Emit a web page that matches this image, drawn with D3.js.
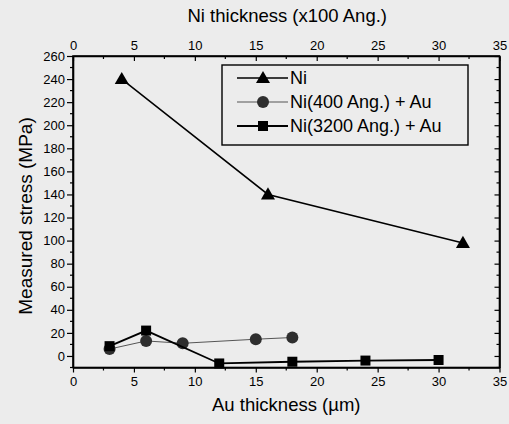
<!DOCTYPE html>
<html>
<head>
<meta charset="utf-8">
<script src="https://cdn.jsdelivr.net/npm/d3@7"></script>
<style>
  html, body { margin: 0; padding: 0; background: #ececec; }
  svg { display: block; }
  text { font-family: Arial, "Liberation Sans", sans-serif; fill: #000; }
</style>
</head>
<body>
<svg id="chart" width="509" height="424"></svg>
<script>
// Stress measurements versus film thickness
const niThickness   = [4, 16, 32];
const niStress      = [240, 140, 98];

const au400Thickness = [3, 6, 9, 15, 18];
const au400Stress    = [6, 13, 11, 14.5, 16];

const au3200Thickness = [3, 6, 12, 18, 24, 30];
const au3200Stress    = [8.5, 22, -6.5, -5, -4, -3.5];

const seriesNames = ["Ni", "Ni(400 Ang.) + Au", "Ni(3200 Ang.) + Au"];

const xTicks = [0, 5, 10, 15, 20, 25, 30, 35];
const yTicks = [0, 20, 40, 60, 80, 100, 120, 140, 160, 180, 200, 220, 240, 260];

const W = 509, H = 424;
const plot = { left: 73, right: 499.5, top: 56, bottom: 367.5 };

const svg = d3.select("#chart");

const x = d3.scaleLinear().domain([0, 35]).range([plot.left, plot.right]);
const y = d3.scaleLinear().domain([-10, 260]).range([plot.bottom, plot.top]);

const fmt = d3.format("d");

// Bottom axis (Au thickness)
const xMinor = d3.range(0, 35.01, 2.5).filter(v => v % 5 !== 0);
const gBottom = svg.append("g").attr("transform", `translate(0,${plot.bottom})`);
gBottom.call(d3.axisBottom(x).tickValues(xTicks).tickFormat(fmt).tickSizeInner(5).tickSizeOuter(0).tickPadding(4));
gBottom.selectAll(".minor").data(xMinor).join("line")
  .attr("x1", d => x(d)).attr("x2", d => x(d)).attr("y1", 0).attr("y2", 3).attr("stroke", "#000").attr("stroke-width", 1.2);

// Top axis (Ni thickness), ticks point inward
const gTop = svg.append("g").attr("transform", `translate(0,${plot.top})`);
gTop.call(d3.axisTop(x).tickValues(xTicks).tickFormat(fmt).tickSizeInner(-5).tickSizeOuter(0).tickPadding(6));
gTop.selectAll(".minor").data(xMinor).join("line")
  .attr("x1", d => x(d)).attr("x2", d => x(d)).attr("y1", 0).attr("y2", 3).attr("stroke", "#000").attr("stroke-width", 1.2);

// Left axis (stress)
const yMinor = d3.range(-10, 261, 10).filter(v => v % 20 !== 0);
const gLeft = svg.append("g").attr("transform", `translate(${plot.left},0)`);
gLeft.call(d3.axisLeft(y).tickValues(yTicks).tickFormat(fmt).tickSizeInner(6).tickSizeOuter(0).tickPadding(2));
gLeft.selectAll(".minor").data(yMinor).join("line")
  .attr("x1", 0).attr("x2", -3).attr("y1", d => y(d)).attr("y2", d => y(d)).attr("stroke", "#000").attr("stroke-width", 1.2);

// Right axis, inward ticks without labels
const gRight = svg.append("g").attr("transform", `translate(${plot.right},0)`);
gRight.call(d3.axisRight(y).tickValues(yTicks).tickFormat("").tickSizeInner(-5).tickSizeOuter(0));
gRight.selectAll(".minor").data(yMinor).join("line")
  .attr("x1", 0).attr("x2", -3).attr("y1", d => y(d)).attr("y2", d => y(d)).attr("stroke", "#000").attr("stroke-width", 1.2);

svg.selectAll(".domain").attr("stroke", "#000").attr("stroke-width", 1.6);
svg.selectAll(".tick line").attr("stroke", "#000").attr("stroke-width", 1.2);
svg.selectAll(".tick text").style("font-size", "13px").attr("fill", "#000");

// Close the frame at the bottom-left / top-right corners
svg.append("rect")
  .attr("x", plot.left).attr("y", plot.top)
  .attr("width", plot.right - plot.left).attr("height", plot.bottom - plot.top)
  .attr("fill", "none").attr("stroke", "#000").attr("stroke-width", 1.6);

// Axis titles
svg.append("text").attr("x", x(17.5) + 1).attr("y", 22).attr("text-anchor", "middle")
  .style("font-size", "18.5px").text("Ni thickness (x100 Ang.)");
svg.append("text").attr("x", x(17.5) + 0).attr("y", 411).attr("text-anchor", "middle")
  .style("font-size", "18.5px").text("Au thickness (\u00b5m)");
svg.append("text").attr("transform", `translate(32,${216}) rotate(-90)`).attr("text-anchor", "middle")
  .style("font-size", "19px").text("Measured stress  (MPa)");

// Marker shapes
const triangle = d3.symbol().type(d3.symbolTriangle).size(85);
function drawTriangle(g, cx, cy) {
  g.append("path").attr("d", triangle()).attr("transform", `translate(${cx},${cy + 1})`).attr("fill", "#000");
}
function drawCircle(g, cx, cy) {
  g.append("circle").attr("cx", cx).attr("cy", cy).attr("r", 6).attr("fill", "#2e2e2e");
}
function drawSquare(g, cx, cy) {
  g.append("rect").attr("x", cx - 5).attr("y", cy - 5).attr("width", 10).attr("height", 10).attr("fill", "#000");
}

const line = d3.line().x(d => x(d[0])).y(d => y(d[1]));

// Ni(400 Ang.) + Au
const s400 = au400Thickness.map((t, i) => [t, au400Stress[i]]);
svg.append("path").datum(s400).attr("d", line).attr("fill", "none").attr("stroke", "#555").attr("stroke-width", 1);
const g400 = svg.append("g");
s400.forEach(d => drawCircle(g400, x(d[0]), y(d[1])));

// Ni(3200 Ang.) + Au
const s3200 = au3200Thickness.map((t, i) => [t, au3200Stress[i]]);
svg.append("path").datum(s3200).attr("d", line).attr("fill", "none").attr("stroke", "#000").attr("stroke-width", 1.8);
const g3200 = svg.append("g");
s3200.forEach(d => drawSquare(g3200, x(d[0]), y(d[1])));

// Ni
const sNi = niThickness.map((t, i) => [t, niStress[i]]);
svg.append("path").datum(sNi).attr("d", line).attr("fill", "none").attr("stroke", "#000").attr("stroke-width", 1.5);
const gNi = svg.append("g");
sNi.forEach(d => drawTriangle(gNi, x(d[0]), y(d[1])));

// Legend
const legend = svg.append("g");
legend.append("rect").attr("x", 222).attr("y", 65).attr("width", 246).attr("height", 80)
  .attr("fill", "none").attr("stroke", "#000").attr("stroke-width", 1.4);
const legendRows = [
  { name: seriesNames[0], draw: drawTriangle, stroke: "#000", sw: 1.5 },
  { name: seriesNames[1], draw: drawCircle, stroke: "#555", sw: 1 },
  { name: seriesNames[2], draw: drawSquare, stroke: "#000", sw: 1.8 }
];
legendRows.forEach((r, i) => {
  const cy = 78 + i * 24;
  legend.append("line").attr("x1", 237).attr("x2", 288).attr("y1", cy).attr("y2", cy)
    .attr("stroke", r.stroke).attr("stroke-width", r.sw);
  r.draw(legend, 263, cy);
  legend.append("text").attr("x", 290).attr("y", cy).attr("dy", "0.35em")
    .style("font-size", "18px").text(r.name);
});
</script>
</body>
</html>
